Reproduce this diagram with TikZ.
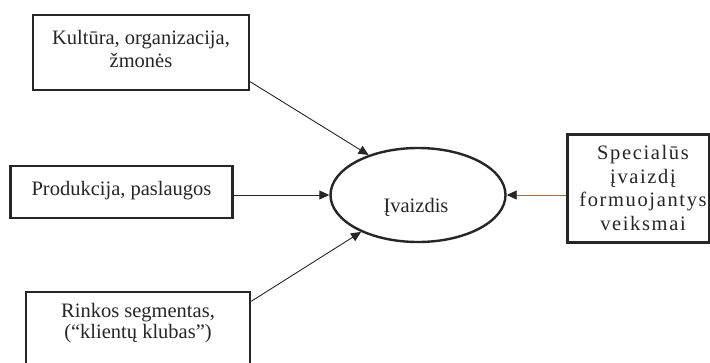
\documentclass[tikz,border=0pt]{standalone}
\usepackage{fontspec}
\setmainfont{Liberation Serif}
\usetikzlibrary{shapes.geometric,arrows.meta}
\definecolor{brownline}{RGB}{150,110,80}
\tikzset{
  box/.style={draw=black!85, line width=2.6pt, fill=white, rectangle, inner sep=0pt},
  txt/.style={font=\fontsize{20.5}{23.5}\selectfont, align=center, text=black!85},
  conn/.style={line width=0.9pt, draw=black!85, -{Triangle[length=10pt,width=9pt,color=black!85]}},
}
\begin{document}
\begin{tikzpicture}[x=1pt,y=-1pt]
\useasboundingbox (0,0) rectangle (710,362);
\clip (0,0) rectangle (710,362);
\fill[white] (0,0) rectangle (710,362);
\node[box, minimum width=216pt, minimum height=75pt] (b1) at (141,52.5) {};
\node[txt] (t1) at (141,49) {Kultūra, organizacija,\\ žmonės};
\node[box, minimum width=222pt, minimum height=52pt] (b2) at (121.5,192) {};
\node[txt] (t2) at (121.5,191) {Produkcija, paslaugos};
\node[box, minimum width=224pt, minimum height=75pt] (b3) at (138,329.5) {};
\node[txt, font=\fontsize{20.5}{21.5}\selectfont] (t3) at (138,323) {Rinkos segmentas,\\ (“klientų klubas”)};
\node[box, minimum width=142pt, minimum height=108pt] (b4) at (638.5,188.5) {};
\node[txt, font=\fontsize{20.5}{23.5}\selectfont\addfontfeature{LetterSpace=8}] (t4) at (643,188) {Specialūs\\ įvaizdį\\ formuojantys\\ veiksmai};
\node[draw=black!85, line width=2.4pt, ellipse, minimum width=175pt, minimum height=94pt, inner sep=0pt] (ell) at (418,195) {};
\node[txt] (te) at (416,207) {Įvaizdis};
\draw[conn] (b1.-15) -- (ell.141);
\draw[conn] (b2.east |- ell.west) -- (ell.west);
\draw[conn] (b3.14) -- (ell.213);
\draw[conn, draw=brownline] (b4.west |- ell.east) -- (ell.east);
\end{tikzpicture}
\end{document}
